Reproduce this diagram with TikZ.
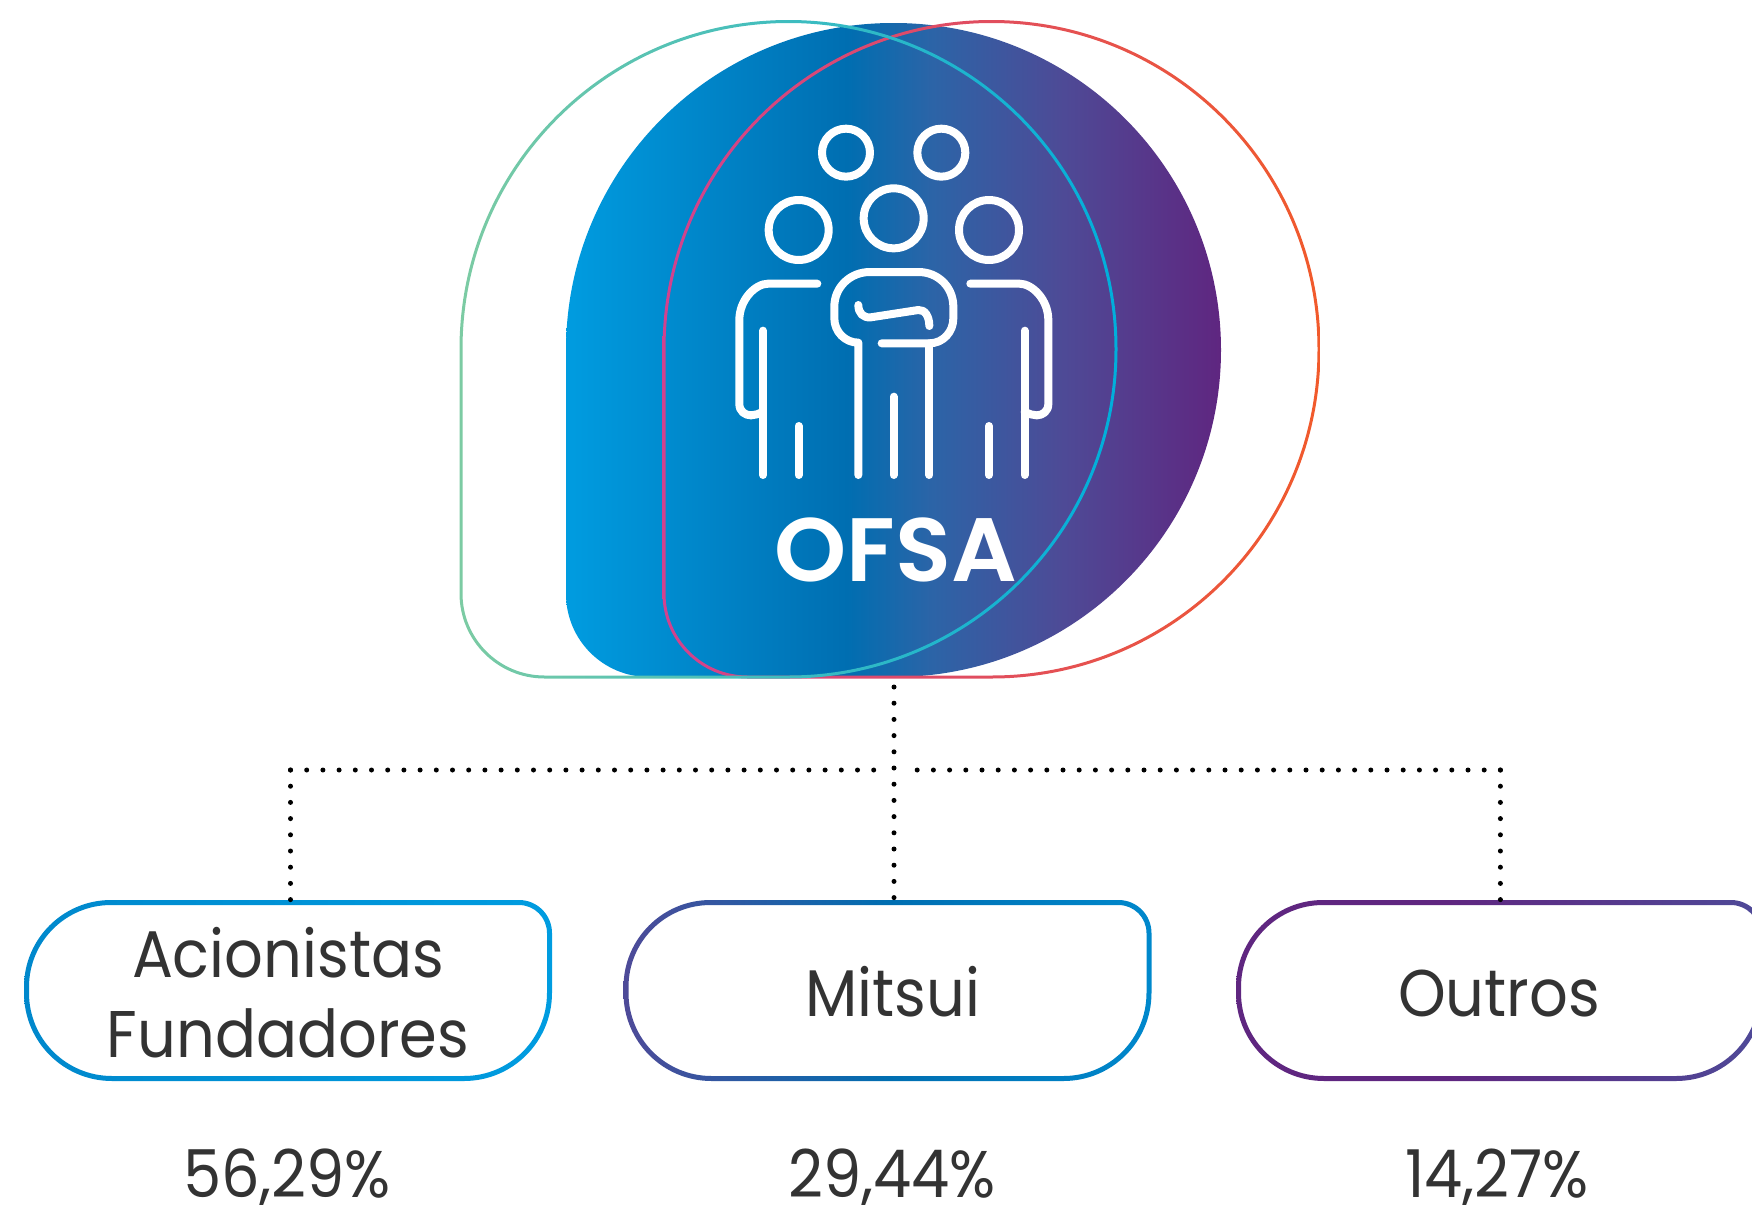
\documentclass[tikz,border=0pt]{standalone}
\usepackage{fontspec}
\setmainfont{Poppins}
\newfontfamily\labelf[FakeStretch=0.92]{Poppins}
\newfontfamily\titlef[FakeStretch=1.02]{Poppins SemiBold}
\definecolor{ink}{HTML}{333333}
\definecolor{cA}{HTML}{009CE0}
\definecolor{cB}{HTML}{006EB1}
\definecolor{cB2}{HTML}{2C64A7}
\definecolor{cB3}{HTML}{4E4A96}
\definecolor{cC}{HTML}{5F2680}
\definecolor{cD}{HTML}{0088CC}
\definecolor{cE}{HTML}{4E4A98}
\definecolor{tA}{HTML}{7CCBA3}
\definecolor{tB}{HTML}{00AEDB}
\definecolor{pA}{HTML}{D1428F}
\definecolor{pB}{HTML}{F15A2B}
\pgfdeclarehorizontalshading{mainG}{100bp}{color(0bp)=(cA); color(25bp)=(cA); color(46.5bp)=(cB); color(53bp)=(cB2); color(63bp)=(cB3); color(75bp)=(cC); color(100bp)=(cC)}
\pgfdeclarehorizontalshading{tealG}{100bp}{color(0bp)=(tA); color(25bp)=(tA); color(75bp)=(tB); color(100bp)=(tB)}
\pgfdeclarehorizontalshading{pinkG}{100bp}{color(0bp)=(pA); color(25bp)=(pA); color(75bp)=(pB); color(100bp)=(pB)}
\pgfdeclarehorizontalshading{boxA}{100bp}{color(0bp)=(cD); color(25bp)=(cD); color(75bp)=(cA); color(100bp)=(cA)}
\pgfdeclarehorizontalshading{boxB}{100bp}{color(0bp)=(cE); color(25bp)=(cE); color(50bp)=(cB); color(75bp)=(cD); color(100bp)=(cD)}
\pgfdeclarehorizontalshading{boxC}{100bp}{color(0bp)=(cC); color(25bp)=(cC); color(45bp)=(cC); color(75bp)=(cE); color(100bp)=(cE)}
% x0 y0 x1 y1 rTL rTR rBR rBL
\newcommand{\blob}[8]{({#1+#5},{#2}) -- ({#3-#6},{#2})
 .. controls ({#3-0.4477*#6},{#2}) and ({#3},{#2+0.4477*#6}) .. ({#3},{#2+#6})
 -- ({#3},{#4-#7})
 .. controls ({#3},{#4-0.4477*#7}) and ({#3-0.4477*#7},{#4}) .. ({#3-#7},{#4})
 -- ({#1+#8},{#4})
 .. controls ({#1+0.4477*#8},{#4}) and ({#1},{#4-0.4477*#8}) .. ({#1},{#4-#8})
 -- ({#1},{#2+#5})
 .. controls ({#1},{#2+0.4477*#5}) and ({#1+0.4477*#5},{#2}) .. ({#1+#5},{#2}) -- cycle}
\tikzset{
 figline/.style={draw=white,line width=4pt,line cap=round,line join=round},
 linkdots/.style={draw=black,line width=2.5pt,line cap=round,dash pattern=on 0pt off 8.1pt},
 boxlabel/.style={text=ink,font=\labelf\fontsize{33}{40}\selectfont,align=center,inner sep=0pt},
 pct/.style={text=ink,font=\labelf\fontsize{33}{40}\selectfont,inner sep=0pt,anchor=base},
}
\begin{document}
\begin{tikzpicture}[x=0.5pt,y=-0.5pt]
\useasboundingbox (0,0) rectangle (1752,1205);
\clip (0,0) rectangle (1752,1205);
% main shape
\shade[shading=mainG] \blob{566}{23}{1221}{677}{327}{327}{327}{83};
% outlines
\shade[shading=pinkG,even odd rule] \blob{662.5}{20}{1320.5}{678.5}{329}{329}{329}{85} \blob{665.5}{23}{1317.5}{675.5}{326}{326}{326}{82};
\shade[shading=tealG,even odd rule] \blob{459.5}{20}{1117.5}{678.5}{329}{329}{329}{85} \blob{462.5}{23}{1114.5}{675.5}{326}{326}{326}{82};
% people
\begin{scope}[shift={(700,100)},scale=1/3]
 \draw[figline] (438,158) circle[radius=72];
 \draw[figline] (724,158) circle[radius=72];
 \draw[figline] (581,355) circle[radius=90];
 \draw[figline] (296,390) circle[radius=90];
 \draw[figline] (867,390) circle[radius=90];
 % left person
 \draw[figline] (352,551) -- (205,551) .. controls (165,551) and (118,600) .. (118,660) -- (118,912)
   .. controls (118,934) and (135,946) .. (153,946) .. controls (165,946) and (175,942) .. (189,935);
 \draw[figline] (189,692) -- (189,1125);
 \draw[figline] (296,978) -- (296,1125);
 % right person
 \draw[figline] (811,551) -- (958,551) .. controls (998,551) and (1045,600) .. (1045,660) -- (1045,912)
   .. controls (1045,934) and (1028,946) .. (1010,946) .. controls (998,946) and (988,942) .. (974,935);
 \draw[figline] (974,692) -- (974,1125);
 \draw[figline] (867,978) -- (867,1125);
 % centre person
 \draw[figline] (475,1125) -- (475,728) .. controls (435,728) and (403,695) .. (403,655) -- (403,620)
   .. controls (403,562) and (450,516) .. (510,516) -- (655,516)
   .. controls (715,516) and (760,562) .. (760,620) -- (760,655)
   .. controls (760,695) and (730,730) .. (688,730) -- (545,730);
 \draw[figline] (688,730) -- (688,1125);
 \draw[figline] (581,890) -- (581,1125);
 \draw[figline] (475,615) .. controls (475,640) and (490,654) .. (512,652) -- (655,630)
   .. controls (675,628) and (688,650) .. (688,678);
\end{scope}
\node[text=white,font=\titlef\fontsize{45}{45}\selectfont,inner sep=0pt,anchor=base] (ofsa) at (896,581) {OFSA};
% boxes
\shade[shading=boxA,even odd rule] \blob{24}{900}{552}{1081}{87}{33}{88}{88} \blob{29}{905}{547}{1076}{82}{28}{83}{83};
\shade[shading=boxB,even odd rule] \blob{623.5}{900}{1151.5}{1081}{87}{33}{88}{88} \blob{628.5}{905}{1146.5}{1076}{82}{28}{83}{83};
\shade[shading=boxC,even odd rule] \blob{1236}{900}{1764}{1081}{87}{33}{88}{88} \blob{1241}{905}{1759}{1076}{82}{28}{83}{83};
\node[boxlabel,anchor=center] (b1) at (288,993) {Acionistas\\Fundadores};
\node[boxlabel,anchor=base] (b2) at (893,1016) {Mitsui};
\node[boxlabel,anchor=base] (b3) at (1499,1016) {Outros};
\node[pct] (p1) at (287,1197) {56,29\%};
\node[pct] (p2) at (892,1197) {29,44\%};
\node[pct] (p3) at (1497,1197) {14,27\%};
% connectors
\coordinate (hub) at (894,687);
\coordinate (hubL) at (880,770);
\coordinate (hubR) at (908,770);
\coordinate (cL) at (290.5,770);
\coordinate (cR) at (1500.4,770);
\coordinate (t1) at (290.5,900);
\coordinate (t2) at (894,900);
\coordinate (t3) at (1500.4,900);
\draw[linkdots] (hub) -- (t2);
\draw[linkdots] (cL) -- (hubL);
\draw[linkdots] (cR) -- (hubR);
\draw[linkdots] (cL) -- (t1);
\draw[linkdots] (cR) -- (t3);
\end{tikzpicture}
\end{document}
